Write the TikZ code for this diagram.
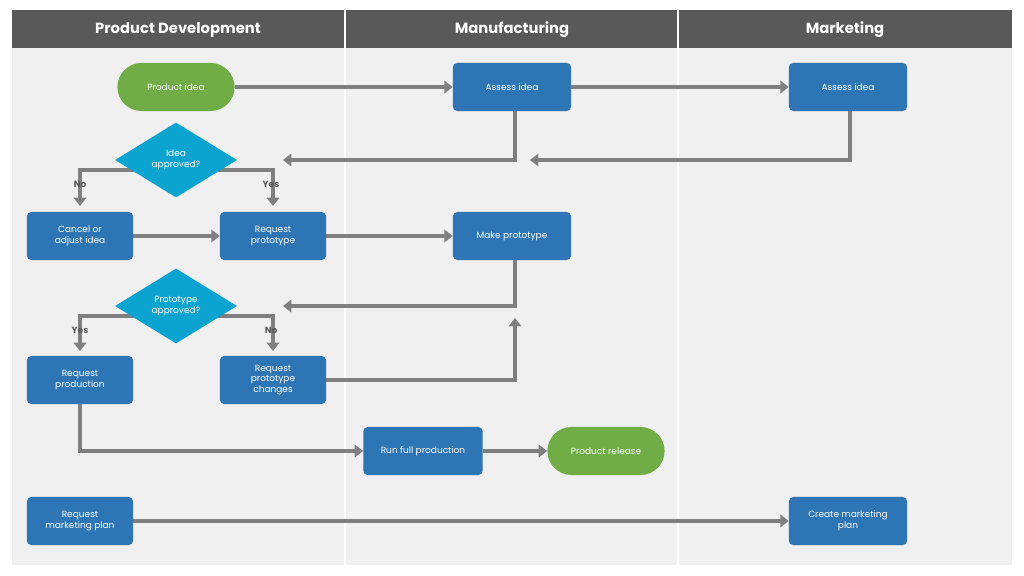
\documentclass[tikz,border=0pt]{standalone}
\usepackage{fontspec}
\setmainfont{Poppins}
\usetikzlibrary{arrows.meta,shapes.geometric}
\definecolor{hdr}{HTML}{595959}
\definecolor{lane}{HTML}{F0F0F0}
\definecolor{boxblue}{HTML}{2E75B6}
\definecolor{boxgreen}{HTML}{70AD47}
\definecolor{diateal}{HTML}{0BA3CF}
\definecolor{flow}{HTML}{7F7F7F}
\tikzset{
  task/.style={draw=none,fill=boxblue,rounded corners=3pt,text=white,align=center,
    font=\fontsize{6.4}{7.6}\selectfont,minimum height=1.2cm,inner sep=1pt},
  term/.style={task,fill=boxgreen,rounded corners=0.6cm,minimum width=2.93cm},
  decide/.style={diamond,fill=diateal,text=white,align=center,aspect=1.6,inner sep=0pt,
    minimum width=3.05cm,minimum height=1.875cm,font=\fontsize{6.4}{7.6}\selectfont},
  flowline/.style={draw=flow,line width=3.5pt,-{Triangle[length=6pt,width=9pt]}},
  tag/.style={text=hdr,font=\bfseries\fontsize{6.4}{7}\selectfont},
  head/.style={text=white,font=\bfseries\fontsize{10.5}{12}\selectfont}
}
\begin{document}
\begin{tikzpicture}[x=0.025cm,y=-0.025cm]
\useasboundingbox (0,0) rectangle (1024,576);
\fill[lane] (12,48) rectangle (1012,565);
\fill[hdr] (12,10) rectangle (1012,48);
\draw[white,line width=1pt] (345,10) -- (345,565) (678,10) -- (678,565);
\node[head] (h1) at (178,30) {Product Development};
\node[head] (h2) at (512,30) {Manufacturing};
\node[head] (h3) at (845,30) {Marketing};
% branch lines under the diamonds
\coordinate (d1l) at (80,170); \coordinate (d1r) at (273,170);
\coordinate (d2l) at (80,316); \coordinate (d2r) at (273,316);
\draw[flowline] (d1r) -- (d1l) -- (80,206);
\draw[flowline] (d1l) -- (d1r) -- (273,206);
\draw[flowline] (d2r) -- (d2l) -- (80,351);
\draw[flowline] (d2l) -- (d2r) -- (273,351);
\node[tag] (no1) at (80,184) {No};
\node[tag] (yes1) at (271,184) {Yes};
\node[tag] (yes2) at (80,330) {Yes};
\node[tag] (no2) at (271,330) {No};
% process boxes
\node[term] (idea) at (176,87) {Product idea};
\node[task,minimum width=2.95cm] (assm) at (512,87) {Assess idea};
\node[task,minimum width=2.95cm] (asmk) at (848,87) {Assess idea};
\node[decide] (ok1) at (176,160) {Idea\\approved?};
\node[task,minimum width=2.65cm] (cancel) at (80,236) {Cancel or\\adjust idea};
\node[task,minimum width=2.65cm] (reqp) at (273,236) {Request\\prototype};
\node[task,minimum width=2.95cm] (make) at (512,236) {Make prototype};
\node[decide] (ok2) at (176,306) {Prototype\\approved?};
\node[task,minimum width=2.65cm] (reqprod) at (80,380) {Request\\production};
\node[task,minimum width=2.65cm] (change) at (273,380) {Request\\prototype\\changes};
\node[task,minimum width=2.98cm] (run) at (423,451) {Run full production};
\node[term] (release) at (606,451) {Product release};
\node[task,minimum width=2.65cm] (reqmk) at (80,521) {Request\\marketing plan};
\node[task,minimum width=2.95cm] (plan) at (848,521) {Create marketing\\plan};
% connectors
\draw[flowline] (idea) -- (assm);
\draw[flowline] (assm) -- (asmk);
\draw[flowline] (assm.south -| 515,0) |- (283,160);
\draw[flowline] (asmk.south -| 850,0) |- (530,160);
\draw[flowline] (cancel) -- (reqp);
\draw[flowline] (reqp) -- (make);
\draw[flowline] (make.south -| 515,0) |- (283,306);
\draw[flowline] (change) -| (515,318);
\draw[flowline] (reqprod) |- (run);
\draw[flowline] (run) -- (release);
\draw[flowline] (reqmk) -- (plan);
\end{tikzpicture}
\end{document}
